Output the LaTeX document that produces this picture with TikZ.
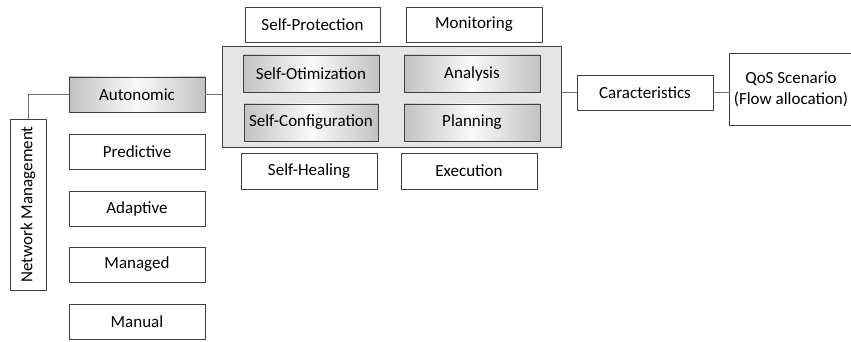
\documentclass[tikz,border=0pt]{standalone}
\usepackage{fontspec}
\setmainfont{Carlito}
\begin{document}
\begin{tikzpicture}[x=1pt,y=-1pt,
  box/.style={draw=black!75, line width=0.8pt, fill=white, inner sep=0pt, font=\fontsize{17}{20}\selectfont},
  shadebox/.style={box, left color=black!24, right color=black!24, middle color=black!2},
  link/.style={draw=black!55, line width=0.9pt}]
\useasboundingbox (0,0) rectangle (851,342);
% big container
\node[draw=black!75, line width=0.8pt, fill=black!10, minimum width=339pt, minimum height=101pt] (core) at (391.5,96.5) {};
% left column
\node[box, rotate=90, minimum width=171pt, minimum height=36pt] (nm) at (28,204.5) {Network Management};
\node[shadebox, minimum width=136pt, minimum height=35pt] (auto) at (137,94.5) {Autonomic};
\node[box, minimum width=136pt, minimum height=35pt] (pred) at (137,151.5) {Predictive};
\node[box, minimum width=136pt, minimum height=35pt] (adap) at (137,208.5) {Adaptive};
\node[box, minimum width=136pt, minimum height=35pt] (mang) at (137,264.5) {Managed};
\node[box, minimum width=136pt, minimum height=35pt] (manu) at (137,321.5) {Manual};
% top / bottom rows
\node[box, minimum width=135pt, minimum height=35pt] (sp) at (312.5,24.5) {Self-Protection};
\node[box, minimum width=136pt, minimum height=35pt] (mon) at (474,24.5) {Monitoring};
\node[box, minimum width=136pt, minimum height=36pt] (sh) at (309,171) {Self-Healing};
\node[box, minimum width=136pt, minimum height=36pt] (exe) at (469,171) {Execution};
% inner shaded
\node[shadebox, minimum width=136pt, minimum height=37pt] (so) at (311,73.5) {Self-Otimization};
\node[shadebox, minimum width=136pt, minimum height=37pt] (an) at (472,73.5) {Analysis};
\node[shadebox, minimum width=134pt, minimum height=37pt] (sc) at (311,122.5) {Self-Configuration};
\node[shadebox, minimum width=136pt, minimum height=37pt] (pl) at (472,122.5) {Planning};
% right
\node[box, minimum width=136pt, minimum height=35pt] (car) at (645,92.5) {Caracteristics};
\node[fill=white, inner sep=0pt, minimum width=122pt, minimum height=71pt, align=center, font=\fontsize{17}{21}\selectfont] (qos) at (791,89.5) {QoS Scenario\\(Flow allocation)};
\draw[draw=black!75, line width=0.8pt] (qos.north east) -- (qos.north west) -- (qos.south west) -- (qos.south east);
% connectors
\coordinate (bend) at (nm.east |- auto.west);
\draw[link] (nm.east) -- (bend) -- (auto.west);
\draw[link] (auto.east) -- (auto.east -| core.west);
\draw[link] (car.west -| core.east) -- (car.west);
\draw[link] (car.east) -- (car.east -| qos.west);
\end{tikzpicture}
\end{document}
